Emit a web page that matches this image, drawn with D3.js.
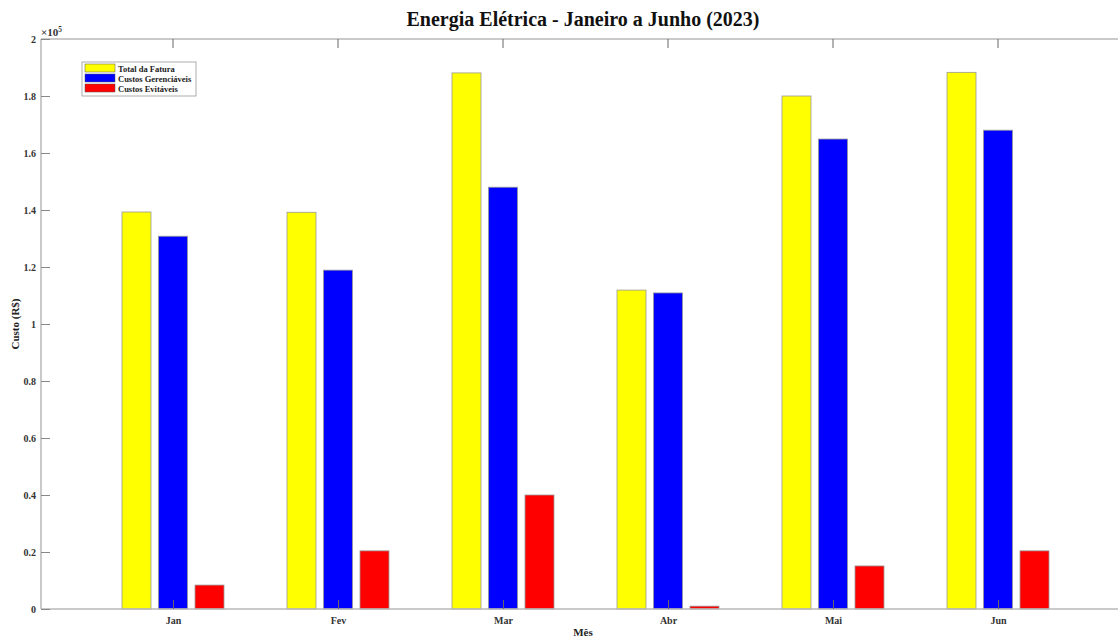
<!DOCTYPE html>
<html>
<head>
<meta charset="utf-8">
<script src="https://cdn.jsdelivr.net/npm/d3@7"></script>
<style>
  body { margin: 0; background: #fff; }
  svg { display: block; }
  text { font-family: "Liberation Serif", "Times New Roman", serif; font-weight: bold; }
</style>
</head>
<body>
<div id="chart"></div>
<script>
var months = ["Jan", "Fev", "Mar", "Abr", "Mai", "Jun"];
var series_names = ["Total da Fatura", "Custos Gerenciáveis", "Custos Evitáveis"];
var total_fatura = [139300, 139200, 188100, 111900, 180000, 188300];
var custos_gerenciaveis = [130800, 118900, 148000, 110900, 164900, 168000];
var custos_evitaveis = [8400, 20400, 40000, 1000, 15100, 20400];
var y_ticks = [0, 0.2, 0.4, 0.6, 0.8, 1, 1.2, 1.4, 1.6, 1.8, 2];
var colors = ["#ffff00", "#0000ff", "#ff0000"];

var all_series = [total_fatura, custos_gerenciaveis, custos_evitaveis];

var svg_width = 1118;
var svg_height = 637;
var margin = { top: 39, left: 41, bottom: 28 };
var plot_bottom = svg_height - margin.bottom;

var svg = d3.select("#chart").append("svg")
  .attr("width", svg_width)
  .attr("height", svg_height);

// x scale in MATLAB-like units: categories at 1..6, limits 0.2..6.8
var x_scale = d3.scaleLinear()
  .domain([0.2, 6.8])
  .range([margin.left, margin.left + 165 * 6.6]);

var y_scale = d3.scaleLinear()
  .domain([0, 200000])
  .range([plot_bottom, margin.top]);

var bar_offset = 36.5 / 165;
var bar_width = 29;

// bars
for (var s = 0; s < all_series.length; s++) {
  svg.append("g")
    .selectAll("rect")
    .data(all_series[s])
    .enter()
    .append("rect")
    .attr("x", function(d, i) { return x_scale(i + 1 + (s - 1) * bar_offset) - bar_width / 2; })
    .attr("y", function(d) { return y_scale(d); })
    .attr("width", bar_width)
    .attr("height", function(d) { return plot_bottom - y_scale(d); })
    .attr("fill", colors[s])
    .attr("stroke", "#999")
    .attr("stroke-width", 0.8);
}

// axis lines
var axis_color = "#b8b8b8";
svg.append("line")
  .attr("x1", margin.left).attr("x2", svg_width)
  .attr("y1", margin.top).attr("y2", margin.top)
  .attr("stroke", axis_color).attr("stroke-width", 1.5);
svg.append("line")
  .attr("x1", margin.left).attr("x2", svg_width)
  .attr("y1", plot_bottom).attr("y2", plot_bottom)
  .attr("stroke", axis_color).attr("stroke-width", 1.5);
svg.append("line")
  .attr("x1", margin.left).attr("x2", margin.left)
  .attr("y1", margin.top).attr("y2", plot_bottom)
  .attr("stroke", axis_color).attr("stroke-width", 1.5);

// y axis ticks and labels
var y_axis = d3.axisLeft(y_scale)
  .tickValues(y_ticks.map(function(t) { return t * 100000; }))
  .tickFormat(function(d) { return d3.format("~g")(d / 100000); })
  .tickSizeInner(-9)
  .tickSizeOuter(0)
  .tickPadding(20);
var gy = svg.append("g")
  .attr("transform", "translate(" + margin.left + ",0)")
  .call(y_axis);
gy.select(".domain").remove();
gy.selectAll(".tick line").attr("stroke", "#888");
gy.selectAll(".tick text")
  .attr("font-size", 10)
  .attr("font-family", "Liberation Serif, serif")
  .attr("font-weight", "bold")
  .attr("fill", "#333")
  .attr("x", -5);

// x axis ticks
var cats = months.map(function(m, i) { return i + 1; });
var x_axis = d3.axisBottom(x_scale)
  .tickValues(cats)
  .tickFormat(function(d) { return months[d - 1]; })
  .tickSizeInner(-9)
  .tickSizeOuter(0)
  .tickPadding(15);
var gx = svg.append("g")
  .attr("transform", "translate(0," + plot_bottom + ")")
  .call(x_axis);
gx.select(".domain").remove();
gx.selectAll(".tick line").attr("stroke", "#666");
gx.selectAll(".tick text")
  .attr("font-size", 10)
  .attr("font-family", "Liberation Serif, serif")
  .attr("font-weight", "bold")
  .attr("fill", "#333")
  .attr("y", 8);

// top ticks
svg.append("g")
  .selectAll("line")
  .data(cats)
  .enter()
  .append("line")
  .attr("x1", function(d) { return x_scale(d); })
  .attr("x2", function(d) { return x_scale(d); })
  .attr("y1", margin.top)
  .attr("y2", margin.top + 9)
  .attr("stroke", "#666");

// exponent
var expo = svg.append("text")
  .attr("x", 41).attr("y", 36)
  .attr("font-size", 11)
  .attr("font-weight", "normal")
  .attr("fill", "#333");
expo.append("tspan").text("×10");
expo.append("tspan").attr("font-size", 7.5).attr("dy", -4).text("5");

// title
svg.append("text")
  .attr("x", 583).attr("y", 26)
  .attr("text-anchor", "middle")
  .attr("font-size", 20)
  .attr("fill", "#111")
  .text("Energia Elétrica - Janeiro a Junho (2023)");

// axis labels
svg.append("text")
  .attr("transform", "translate(19," + ((margin.top + plot_bottom) / 2) + ") rotate(-90)")
  .attr("text-anchor", "middle")
  .attr("font-size", 11)
  .attr("fill", "#222")
  .text("Custo (R$)");
svg.append("text")
  .attr("x", 583).attr("y", 636)
  .attr("text-anchor", "middle")
  .attr("font-size", 11)
  .attr("fill", "#222")
  .text("Mês");

// legend
var legend = svg.append("g").attr("transform", "translate(82,62)");
legend.append("rect")
  .attr("width", 114).attr("height", 34)
  .attr("fill", "#fff")
  .attr("stroke", "#999")
  .attr("stroke-width", 0.8);
var items = legend.selectAll("g.item")
  .data(series_names)
  .enter()
  .append("g")
  .attr("class", "item")
  .attr("transform", function(d, i) { return "translate(3," + (2 + i * 10) + ")"; });
items.append("rect")
  .attr("width", 30).attr("height", 8)
  .attr("fill", function(d, i) { return colors[i]; })
  .attr("stroke", "#555")
  .attr("stroke-width", 0.5);
items.append("text")
  .attr("x", 33).attr("y", 7.5)
  .attr("font-size", 8.5)
  .attr("fill", "#222")
  .text(function(d) { return d; });
</script>
</body>
</html>
